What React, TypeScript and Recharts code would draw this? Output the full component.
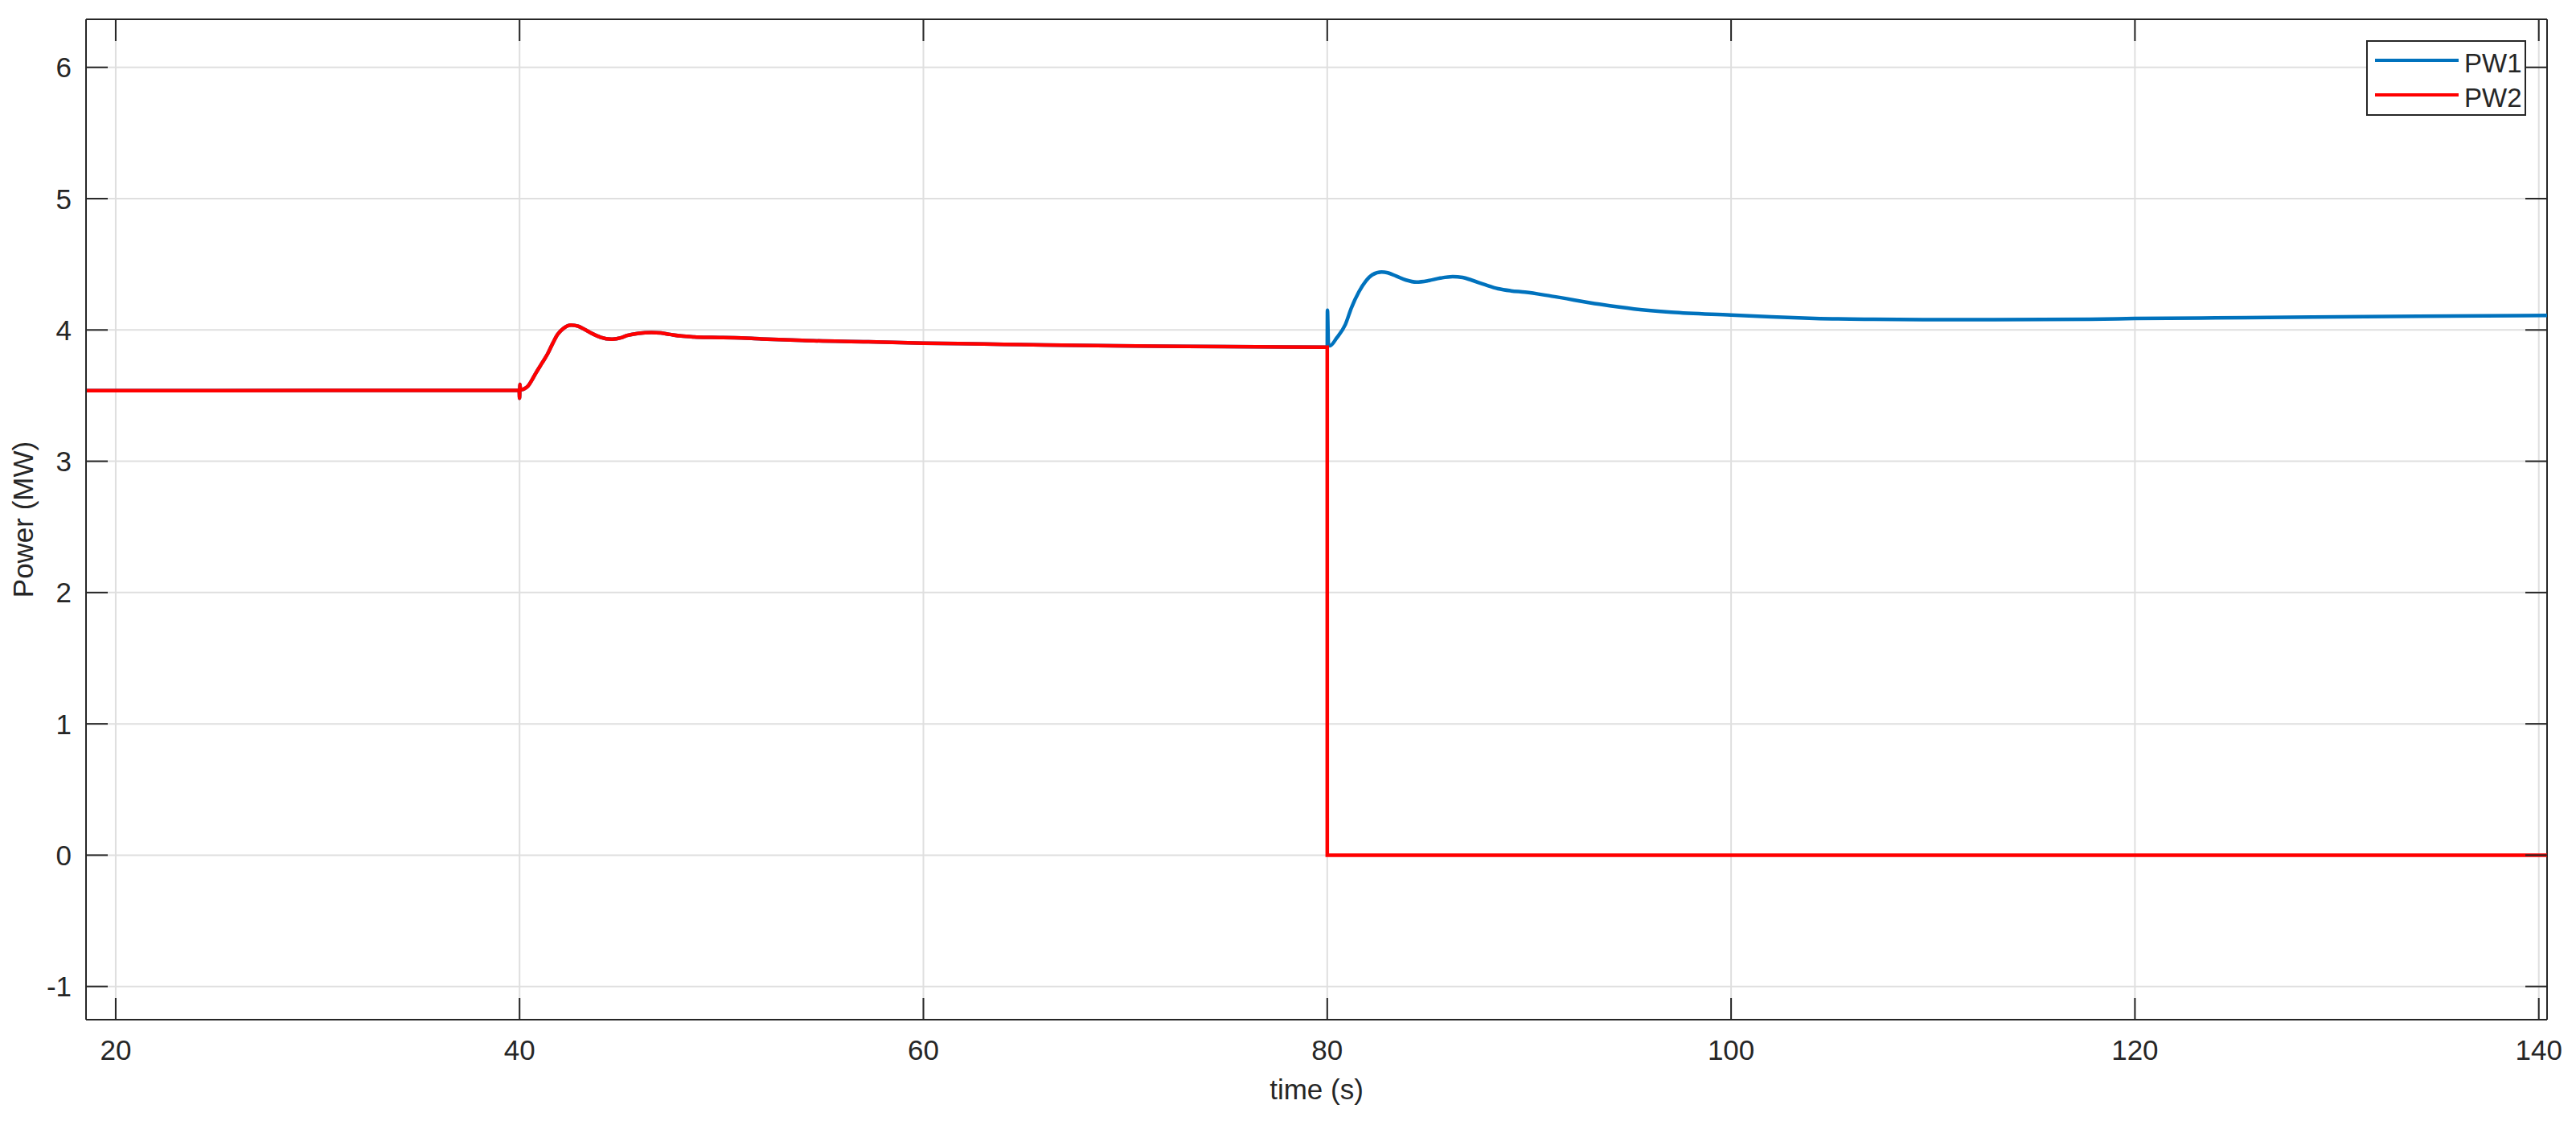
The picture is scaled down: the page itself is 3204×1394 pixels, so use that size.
import { LineChart, Line, XAxis, YAxis, CartesianGrid, Legend, Label, ReferenceLine } from "recharts";

const W = 3204;
const H = 1394;
const FONT = '"Liberation Sans", Arial, Helvetica, sans-serif';
const AXIS_COLOR = "#262626";

// MATLAB default colours
const BLUE = "#0072BD";
const RED = "#FF0000";

// plot box edges (the box is "on", ticks are repeated on top and right)
const PLOT_TOP = 24;
const PLOT_RIGHT = 3168;

const xTicks = [20, 40, 60, 80, 100, 120, 140];
const yTicks = [-1, 0, 1, 2, 3, 4, 5, 6];
const xDomain = [18.53, 140.41];
const yDomain = [-1.253, 6.366];

// both units run together until PW2 trips at t = 80 s
const sharedTime = [
  18.5, 25, 30, 35, 39.98, 40.0, 40.02, 40.04, 40.1, 40.25, 40.42, 40.6, 40.82, 41.1, 41.39, 41.65,
  41.88, 42.2, 42.55, 42.9, 43.21, 43.6, 44.0, 44.54, 45.0, 45.33, 45.9, 46.53, 47.0, 47.46, 48.0,
  48.64, 49.5, 50.64, 51.97, 54, 57.28, 60, 63, 66, 69.46, 73, 76.5, 79.97,
];
const sharedPower = [
  3.538, 3.538, 3.539, 3.539, 3.54, 3.48, 3.585, 3.545, 3.545, 3.553, 3.573, 3.615, 3.675, 3.745,
  3.818, 3.9, 3.965, 4.015, 4.037, 4.028, 4.005, 3.972, 3.945, 3.93, 3.94, 3.958, 3.975, 3.981,
  3.977, 3.966, 3.954, 3.947, 3.943, 3.941, 3.932, 3.92, 3.91, 3.9, 3.893, 3.886, 3.879, 3.875,
  3.872, 3.869,
];

// PW1 after the trip
const pw1Time = [
  80, 80.01, 80.06, 80.13, 80.47, 80.9, 81.2, 81.56, 81.9, 82.23, 82.69, 83.0, 83.42, 83.9, 84.42,
  85.0, 85.6, 86.21, 86.7, 87.14, 87.8, 88.46, 89.1, 89.79, 91.12, 93.48, 95.2, 97.04, 100, 102,
  104.14, 107, 109.5, 113, 117.8, 120, 124, 128.8, 134, 140.41,
];
const pw1Power = [
  3.869, 4.15, 3.885, 3.879, 3.94, 4.043, 4.17, 4.288, 4.37, 4.42, 4.441, 4.435, 4.41, 4.38, 4.365,
  4.375, 4.395, 4.406, 4.4, 4.38, 4.345, 4.314, 4.298, 4.288, 4.257, 4.196, 4.16, 4.135, 4.114, 4.1,
  4.088, 4.081, 4.078, 4.078, 4.082, 4.087, 4.092, 4.098, 4.105, 4.11,
];

// PW2 drops out at 80 s
const pw2Time = [80, 80.001, 140.41];
const pw2Power = [3.869, 0, 0];

const toPoints = (t: number[], p: number[]) => t.map((time, i) => ({ t: time, p: p[i] }));
const pw1Data = [...toPoints(sharedTime, sharedPower), ...toPoints(pw1Time, pw1Power)];
const pw2Data = [...toPoints(sharedTime, sharedPower), ...toPoints(pw2Time, pw2Power)];

const TICK_LEN = 27;

const BottomTick = ({ x, y, payload }: any) => (
  <g>
    <line x1={x} y1={y} x2={x} y2={y - TICK_LEN} stroke={AXIS_COLOR} strokeWidth={2} />
    <line x1={x} y1={PLOT_TOP} x2={x} y2={PLOT_TOP + TICK_LEN} stroke={AXIS_COLOR} strokeWidth={2} />
    <text x={x} y={y + 50} textAnchor="middle" fill={AXIS_COLOR} fontSize={35} fontFamily={FONT}>
      {payload.value}
    </text>
  </g>
);

const LeftTick = ({ x, y, payload }: any) => (
  <g>
    <line x1={x} y1={y} x2={x + TICK_LEN} y2={y} stroke={AXIS_COLOR} strokeWidth={2} />
    <line x1={PLOT_RIGHT} y1={y} x2={PLOT_RIGHT - TICK_LEN} y2={y} stroke={AXIS_COLOR} strokeWidth={2} />
    <text x={x - 18} y={y + 12.5} textAnchor="end" fill={AXIS_COLOR} fontSize={35} fontFamily={FONT}>
      {payload.value}
    </text>
  </g>
);

const renderXLabel = (props: any) => {
  const vb = props.viewBox || { x: 107, y: 1268, width: 3061 };
  return (
    <text x={vb.x + vb.width / 2} y={vb.y + 99} textAnchor="middle" fill={AXIS_COLOR} fontSize={35} fontFamily={FONT}>
      time (s)
    </text>
  );
};

const renderYLabel = (props: any) => {
  const vb = props.viewBox || { x: 0, y: 24, height: 1244 };
  const cy = vb.y + vb.height / 2;
  return (
    <text
      x={28}
      y={cy}
      transform={`rotate(-90, 28, ${cy})`}
      textAnchor="middle"
      dominantBaseline="central"
      fill={AXIS_COLOR}
      fontSize={35}
      fontFamily={FONT}
    >
      Power (MW)
    </text>
  );
};

const LegendBox = ({ payload }: any) => (
  <div
    style={{
      position: "relative",
      width: 199,
      height: 94,
      boxSizing: "border-box",
      border: `2px solid ${AXIS_COLOR}`,
      background: "#fff",
      fontFamily: FONT,
    }}
  >
    {(payload || []).map((entry: any, i: number) => (
      <div key={entry.value}>
        <span
          style={{
            position: "absolute",
            left: 9,
            top: 21 + i * 43,
            width: 104,
            height: 4,
            background: entry.color,
          }}
        />
        <span
          style={{
            position: "absolute",
            left: 120,
            top: 7 + i * 43,
            fontSize: 33,
            lineHeight: "40px",
            color: AXIS_COLOR,
          }}
        >
          {entry.value}
        </span>
      </div>
    ))}
  </div>
);

export default function App() {
  return (
    <div style={{ position: "absolute", left: 0, top: 0, width: W, height: H, background: "#fff" }}>
      <LineChart width={W} height={H} margin={{ top: PLOT_TOP, right: W - PLOT_RIGHT, bottom: 0, left: 0 }}>
        <CartesianGrid stroke="#dfdfdf" strokeWidth={2} horizontalValues={yTicks} verticalValues={xTicks} />
        <XAxis
          dataKey="t"
          type="number"
          domain={xDomain}
          allowDataOverflow
          ticks={xTicks}
          interval={0}
          height={126}
          tickSize={0}
          tickMargin={0}
          tickLine={false}
          axisLine={{ stroke: AXIS_COLOR, strokeWidth: 2 }}
          tick={<BottomTick />}
        >
          <Label content={renderXLabel} />
        </XAxis>
        <YAxis
          type="number"
          domain={yDomain}
          allowDataOverflow
          ticks={yTicks}
          interval={0}
          width={107}
          tickSize={0}
          tickMargin={0}
          tickLine={false}
          axisLine={{ stroke: AXIS_COLOR, strokeWidth: 2 }}
          tick={<LeftTick />}
        >
          <Label content={renderYLabel} />
        </YAxis>
        <ReferenceLine y={yDomain[1]} stroke={AXIS_COLOR} strokeWidth={2} ifOverflow="visible" />
        <ReferenceLine x={xDomain[1]} stroke={AXIS_COLOR} strokeWidth={2} ifOverflow="visible" />
        <Legend
          layout="vertical"
          align="center"
          verticalAlign="middle"
          content={<LegendBox />}
          wrapperStyle={{ position: "absolute", left: 2943, top: 50, width: 199, height: 94 }}
        />
        <Line
          data={pw1Data}
          dataKey="p"
          name="PW1"
          type="monotoneX"
          stroke={BLUE}
          strokeWidth={4.5}
          dot={false}
          activeDot={false}
          isAnimationActive={false}
        />
        <Line
          data={pw2Data}
          dataKey="p"
          name="PW2"
          type="monotoneX"
          stroke={RED}
          strokeWidth={4.5}
          dot={false}
          activeDot={false}
          isAnimationActive={false}
        />
      </LineChart>
    </div>
  );
}
